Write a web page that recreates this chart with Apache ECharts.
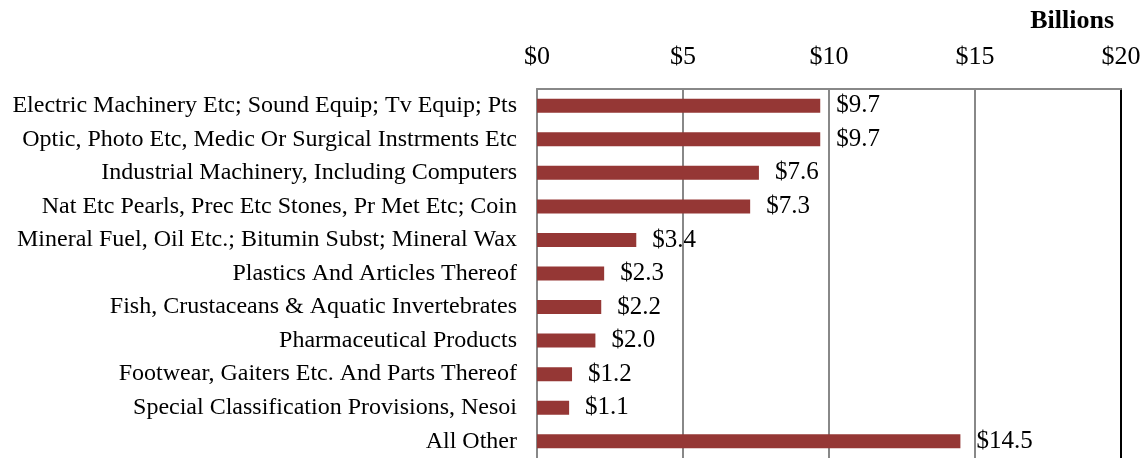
<!DOCTYPE html>
<html>
<head>
<meta charset="utf-8">
<script src="https://cdn.jsdelivr.net/npm/echarts@6/dist/echarts.min.js"></script>
<style>
  html, body { margin: 0; padding: 0; background: #fff; }
  #chart { width: 1146px; height: 458px; }
</style>
</head>
<body>
<div id="chart"></div>
<script>
// Export categories (top to bottom) and values in billions of dollars
const categories = [
  'Electric Machinery Etc; Sound Equip; Tv Equip; Pts',
  'Optic, Photo Etc, Medic Or Surgical Instrments Etc',
  'Industrial Machinery, Including Computers',
  'Nat Etc Pearls, Prec Etc Stones, Pr Met Etc; Coin',
  'Mineral Fuel, Oil Etc.; Bitumin Subst; Mineral Wax',
  'Plastics And Articles Thereof',
  'Fish, Crustaceans & Aquatic Invertebrates',
  'Pharmaceutical Products',
  'Footwear, Gaiters Etc. And Parts Thereof',
  'Special Classification Provisions, Nesoi',
  'All Other'
];
const values = [9.7, 9.7, 7.6, 7.3, 3.4, 2.3, 2.2, 2.0, 1.2, 1.1, 14.5];
const axisMin = 0;
const axisMax = 20;
const axisStep = 5;
const unitTitle = 'Billions';

const FONT = '"Liberation Serif", "Times New Roman", serif';

const chart = echarts.init(document.getElementById('chart'));
chart.setOption({
  animation: false,
  backgroundColor: '#ffffff',
  title: {
    text: unitTitle,
    right: 32,
    top: 8,
    padding: 0,
    textStyle: { fontFamily: FONT, fontWeight: 'bold', fontSize: 26, color: '#000' }
  },
  grid: { left: 537, right: 25, top: 89, bottom: 0, containLabel: false },
  xAxis: {
    type: 'value',
    position: 'top',
    min: axisMin,
    max: axisMax,
    interval: axisStep,
    axisLine: { show: true, lineStyle: { color: '#888', width: 2 } },
    axisTick: { show: false },
    axisLabel: {
      margin: 19,
      fontFamily: FONT,
      fontSize: 26,
      color: '#000',
      formatter: v => '$' + v
    },
    splitLine: { show: true, lineStyle: { color: '#888', width: 2 } }
  },
  yAxis: [
    {
      type: 'category',
      data: categories,
      inverse: true,
      axisLine: { show: true, lineStyle: { color: '#888', width: 2 } },
      axisTick: { show: false },
      axisLabel: { margin: 20, fontFamily: FONT, fontSize: 24, color: '#000' }
    },
    {
      type: 'category',
      data: categories,
      inverse: true,
      position: 'right',
      axisLine: { show: true, lineStyle: { color: '#000', width: 2 } },
      axisTick: { show: false },
      axisLabel: { show: false }
    }
  ],
  series: [{
    type: 'bar',
    data: values,
    barWidth: 14,
    itemStyle: { color: '#953735' },
    label: {
      show: true,
      position: 'right',
      distance: 16,
      fontFamily: FONT,
      fontSize: 25,
      color: '#000',
      formatter: p => '$' + p.value.toFixed(1)
    }
  }]
});
</script>
</body>
</html>
